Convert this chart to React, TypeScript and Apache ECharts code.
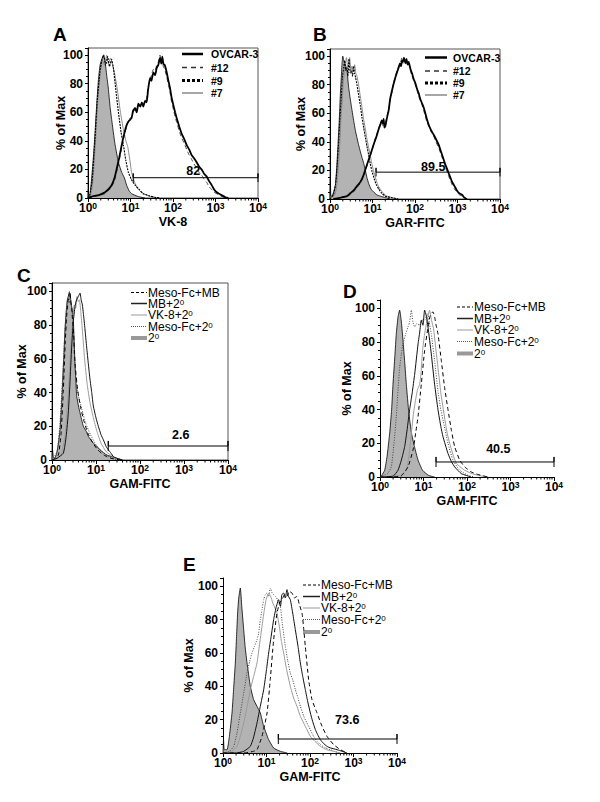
import React, { useEffect, useRef } from 'react';
import * as echarts from 'echarts';

type P = [number, number];

const FONT = '"Liberation Sans", Arial, Helvetica, sans-serif';

// ---------------- DATA ----------------
const panelLetters = ['A', 'B', 'C', 'D', 'E'];
const xTitles = ['VK-8', 'GAR-FITC', 'GAM-FITC', 'GAM-FITC', 'GAM-FITC'];
const yTitle = '% of Max';
const xMinorTicks = [2, 3, 4, 5, 6, 7, 8, 9, 20, 30, 40, 50, 60, 70, 80, 90, 200, 300, 400, 500, 600, 700, 800, 900, 2000, 3000, 4000, 5000, 6000, 7000, 8000, 9000];

const legendAB = ['OVCAR-3', '#12', '#9', '#7'];
const legendCDE = ['Meso-Fc+MB', 'MB+2', 'VK-8+2', 'Meso-Fc+2', '2'];
const legendCDEsup = ['', '0', '0', '0', '0'];

// Panel A
const aIsotype: P[] = [[1,0],[1.02,6],[1.05,1],[1.12,3],[1.22,14],[1.35,30],[1.46,45],[1.6,65],[1.75,82],[1.92,93],[2.1,97],[2.3,100],[2.51,96],[2.75,86],[3.0,77],[3.3,64],[3.6,55],[4.3,38],[5.2,25],[6.2,18],[7.2,14],[8.1,9],[9.3,5],[10.6,3],[15.3,1],[22,0]];
const aOvcar3: P[] = [[1,0],[1.22,1],[1.8,2],[2.51,4],[3.0,6],[3.6,9],[4.2,14],[4.7,20],[5.4,28],[6.2,37],[7.0,44],[8.1,51],[9.2,54],[10.6,56],[11.5,61],[12.8,63],[14,60],[15.3,66],[17,64],[18.5,67],[20,64],[22,68],[24,67],[26,76],[28.8,84],[31,82],[34.5,88],[38,86],[41.3,91],[45,93],[49.4,98],[53,94],[56,99],[59.3,94],[64,93],[71,88],[78,82],[85,77],[93,70],[102,65],[112,60],[122,56],[140,50],[160,45],[185,41],[210,37],[240,34],[275,30],[310,28],[360,25],[410,22],[473,20],[540,17],[620,15],[700,12],[813,9],[930,6],[1065,4],[1220,3],[1396,2],[1700,0.5],[2000,0]];
const aClone12: P[] = [[1,0],[1.3,1],[2.0,2],[2.51,3],[3.0,5],[3.6,8],[4.2,12],[4.7,18],[5.4,26],[6.2,35],[7.0,43],[8.1,50],[9.2,55],[10.6,57],[11.5,60],[12.8,62],[14,63],[15.3,64],[17,66],[20,65],[22,67],[24,70],[26,78],[28.8,82],[31,86],[34.5,90],[38,89],[41.3,93],[45,95],[49.4,100],[53,96],[56,97],[59.3,92],[64,90],[71,85],[78,79],[85,74],[93,67],[102,62],[112,57],[122,53],[140,47],[160,42],[185,38],[210,34],[240,30],[275,27],[310,24],[360,21],[410,18],[473,16],[540,13],[620,11],[700,8],[813,6],[930,4],[1065,3],[1220,2],[1396,1],[1700,0.3],[2000,0]];
const aClone9: P[] = [[1,0],[1.1,2],[1.25,12],[1.45,40],[1.65,68],[1.9,88],[2.1,96],[2.35,100],[2.6,93],[2.9,99],[3.2,92],[3.6,97],[4.0,90],[4.5,76],[5.2,60],[6.0,46],[6.8,37],[7.8,26],[8.9,18],[10.5,13],[12.8,9],[16,6],[20,3],[28,1.5],[37,0.5],[50,0]];
const aClone7: P[] = [[1,0],[1.15,2],[1.3,12],[1.5,40],[1.7,68],[1.95,88],[2.2,96],[2.45,93],[2.75,100],[3.0,94],[3.4,98],[3.8,93],[4.3,86],[5.0,74],[5.8,60],[6.8,48],[7.8,40],[8.6,36],[9.5,28],[10.6,18],[12.5,11],[15.3,6],[20,3],[30,1],[45,0]];
const aGate = [11.6, 10000, 14.2];
const aGateLabel = { x: 300, y: 19, text: '82' };

// Panel B
const bIsotype: P[] = [[1,0],[1.02,14],[1.05,2],[1.11,2],[1.22,5],[1.34,10],[1.44,22],[1.54,38],[1.65,55],[1.75,73],[1.85,86],[1.92,95],[2.0,100],[2.1,97],[2.3,94],[2.51,90],[2.75,78],[3.0,70],[3.3,62],[3.6,55],[3.95,48],[4.3,43],[4.7,38],[5.2,33],[5.66,29],[6.2,25],[6.8,20],[7.4,15],[8.1,11],[9.2,7],[10.6,5],[12.5,3],[15.3,2],[20,1],[26,0]];
const bOvcar3: P[] = [[1.2,0],[1.8,1],[2.51,2],[3.0,4],[3.6,6],[4.3,9],[5.2,12],[6.2,17],[7.4,24],[8.9,31],[10.6,38],[11.5,41],[12.8,45],[14,49],[15.3,52],[16.5,55],[17.5,53],[18.3,56],[19,50],[20,51],[22,57],[24,62],[26,70],[28.8,76],[31,80],[34.5,85],[38,89],[41.3,92],[44,95],[47,93],[49.4,97],[52,96],[55,99],[59.3,95],[63,98],[67,94],[71,96],[78,91],[85,88],[93,84],[102,81],[112,77],[122,74],[133,70],[146,67],[160,64],[175,60],[190,56],[210,52],[240,48],[275,45],[310,42],[360,38],[400,34],[433,31],[480,27],[520,24],[570,21],[620,18],[680,15],[745,12],[850,9],[970,6],[1100,4],[1280,3],[1450,1],[1670,0]];
const bClone12: P[] = [[1.2,0],[1.8,1],[2.51,2],[3.0,3],[3.6,5],[4.3,8],[5.2,11],[6.2,16],[7.4,23],[8.9,30],[10.6,38],[11.5,42],[12.8,46],[14,50],[15.3,53],[16.5,54],[17.5,51],[18.3,54],[19,52],[20,53],[22,58],[24,63],[26,69],[28.8,75],[31,81],[34.5,86],[38,90],[41.3,93],[44,94],[47,97],[49.4,99],[52,95],[55,97],[59.3,96],[63,95],[67,96],[71,95],[78,90],[85,86],[93,83],[102,80],[112,76],[122,72],[133,69],[146,66],[160,62],[175,58],[190,54],[210,51],[240,47],[275,44],[310,40],[360,36],[400,32],[433,29],[480,26],[520,22],[570,19],[620,16],[680,13],[745,10],[850,7],[970,5],[1100,3],[1280,2],[1450,1],[1670,0]];
const bClone9: P[] = [[1,0],[1.2,3],[1.35,10],[1.45,20],[1.6,40],[1.7,55],[1.85,72],[1.95,85],[2.1,92],[2.2,97],[2.35,90],[2.5,92],[2.65,86],[2.8,98],[3.0,88],[3.2,90],[3.4,86],[3.6,93],[3.8,88],[4.0,85],[4.3,80],[4.7,73],[5.2,65],[5.66,57],[6.2,50],[6.8,43],[7.4,37],[8.1,31],[8.8,25],[9.6,20],[11,14],[12.3,10],[14,7],[16.5,4],[20,2],[27,1],[40,0]];
const bClone7: P[] = [[1,0],[1.3,3],[1.45,10],[1.55,20],[1.7,38],[1.8,55],[1.95,70],[2.05,82],[2.2,90],[2.3,95],[2.45,99],[2.6,92],[2.75,95],[2.9,99],[3.1,90],[3.3,93],[3.5,89],[3.8,94],[4.05,88],[4.3,86],[4.7,80],[5.1,73],[5.6,65],[6.1,57],[6.7,50],[7.3,43],[8.0,37],[8.8,31],[9.6,25],[10.5,20],[12,14],[13.3,10],[15,7],[18,4],[22,2],[29,1],[42,0]];
const bGate = [12.1, 10000, 18.8];
const bGateLabel = { x: 269, y: 22.5, text: '89.5' };

// Panel C
const cSecondary: P[] = [[1,0],[1.03,6],[1.07,2],[1.15,1],[1.28,4],[1.4,10],[1.52,18],[1.65,33],[1.75,47],[1.87,63],[1.97,77],[2.1,88],[2.23,95],[2.4,98],[2.57,99],[2.7,93],[2.85,90],[3.05,83],[3.2,70],[3.33,57],[3.5,46],[3.64,38],[4.0,32],[4.33,28],[5.16,20],[6.0,17],[6.7,14],[8.7,10],[10.5,8],[12.3,6],[17.4,3],[23,2],[29.5,1],[40,0]];
const cMesoMB: P[] = [[1,0],[1.2,1],[1.4,3],[1.6,15],[1.8,40],[2.0,70],[2.15,85],[2.3,94],[2.5,100],[2.65,95],[2.8,90],[2.95,82],[3.1,75],[3.25,62],[3.4,55],[3.8,42],[4.4,32],[5.2,24],[6.5,16],[8.5,10],[11,6],[15,3],[22,1],[35,0]];
const cMB: P[] = [[1,0],[1.3,1],[1.81,4],[2.1,14],[2.35,28],[2.55,45],[2.8,67],[3.05,82],[3.33,91],[3.6,95],[3.97,97],[4.33,99],[4.6,95],[4.9,92],[5.16,87],[5.6,78],[6.13,67],[6.7,57],[7.3,48],[8.0,40],[8.7,32],[10,25],[11.3,20],[13,15],[14.7,12],[17,8],[19.1,6],[22,4],[24.8,2],[30,1],[40,0]];
const cVK8: P[] = [[1,0],[1.6,3],[2.0,15],[2.2,30],[2.4,45],[2.6,62],[2.8,75],[3.0,85],[3.2,92],[3.45,90],[3.7,97],[3.95,94],[4.2,95],[4.5,88],[4.8,80],[5.5,60],[6.3,45],[7.3,34],[8.7,25],[10.5,17],[13,10],[17,5],[24,2],[35,0]];
const cMeso2: P[] = [[1,0],[1.3,5],[1.5,20],[1.75,50],[2.0,80],[2.15,90],[2.3,96],[2.45,93],[2.55,98],[2.75,92],[2.9,85],[3.05,75],[3.2,65],[3.5,48],[4.0,38],[4.8,30],[5.8,22],[7.5,15],[10,9],[14,5],[20,2],[30,0]];
const cGate = [19, 10000, 8.3];
const cGateLabel = { x: 841, y: 14.9, text: '2.6' };

// Panel D
const dSecondary: P[] = [[1,0],[1.1,1],[1.28,4],[1.45,12],[1.67,26],[1.85,40],[1.99,55],[2.2,72],[2.37,85],[2.6,95],[2.83,99],[3.1,92],[3.38,81],[3.7,68],[4.03,55],[4.6,38],[5.3,26],[6.2,18],[7.5,10],[9.5,4],[13,1],[18,0]];
const dMesoMB: P[] = [[1,0],[3,0.5],[4.4,6],[5.74,16],[6.6,26],[7.5,36],[8.9,55],[10.6,75],[12.7,89],[14,95],[15.1,97],[16.5,98],[18,95],[19.5,90],[21.5,85],[25.7,69],[30.6,53],[36.5,40],[43.6,28],[52,18],[68,10],[88.5,6],[125,3],[178,1.5],[254,0.5],[300,0]];
const dMB: P[] = [[1,0],[2,0.5],[2.59,4],[3.1,10],[3.69,18],[4.2,28],[4.8,40],[5.5,50],[6.27,61],[7.5,79],[8.2,86],[8.9,93],[9.7,90],[10.6,99],[11.5,96],[12.7,89],[15.1,73],[18,55],[21.5,40],[25,30],[28,24],[36.5,14],[44,9],[52,6],[74,2],[125,0]];
const dVK8: P[] = [[1,0],[3,1],[4,4],[4.6,12],[5.26,26],[5.9,38],[6.5,45],[7.3,52],[8.16,55],[8.8,62],[9.5,75],[10.5,84],[11.5,90],[12.6,95],[13.8,99],[15.3,93],[17,88],[19,77],[21.5,65],[25,50],[30.6,35],[35,26],[40,20],[48,13],[57,8],[70,6],[88.5,4],[130,2],[178,1],[300,0]];
const dMeso2: P[] = [[1,0],[1.5,2],[1.82,6],[2.1,20],[2.37,36],[2.6,52],[2.83,65],[3.1,73],[3.38,79],[3.9,85],[4.4,89],[4.8,92],[5.26,99],[5.7,92],[6.27,89],[7.0,91],[8.16,90],[9.2,93],[10.6,93],[11.5,95],[12.7,97],[13.5,92],[15.1,85],[18,69],[21.5,51],[25,40],[28,34],[36.5,20],[47.6,10],[68,4],[105,1],[150,0]];
const dGate = [19.4, 10000, 8.9];
const dGateLabel = { x: 525, y: 16.4, text: '40.5' };

// Panel E
const eSecondary: P[] = [[1,0],[1.03,8],[1.07,2],[1.24,2],[1.4,10],[1.61,24],[1.75,38],[1.92,54],[2.05,70],[2.17,84],[2.3,93],[2.5,99],[2.7,88],[2.99,74],[3.25,63],[3.57,54],[4.25,40],[5.07,32],[6.05,28],[7.21,24],[8.6,16],[9.8,12],[11.2,8],[14.6,3],[20.8,1],[30,0]];
const eMesoMB: P[] = [[1,0],[3,0],[5,1],[6.05,2],[7.88,10],[10.3,24],[12.2,44],[14.6,68],[17.4,84],[20,90],[22.7,92],[26,95],[29.6,94],[33,97],[38.6,96],[44,93],[50.2,94],[57,89],[65.5,84],[72,74],[78,64],[93,44],[111,32],[145,24],[189,16],[246,10],[350,5],[498,2],[709,0]];
const eMB: P[] = [[1,0],[2,0],[3,1],[4.25,4],[5,9],[6.05,18],[7.2,28],[8.61,38],[10,50],[11.2,60],[12.8,70],[14.6,80],[16.5,87],[19,92],[21,88],[22.5,95],[24.8,96],[27,93],[29.6,98],[32,94],[35.3,92],[40,84],[46,74],[53,64],[60,54],[68,46],[78,38],[90,30],[102,24],[115,19],[133,14],[150,11],[173,8],[200,6],[246,4],[300,3],[418,2],[550,1],[709,0]];
const eVK8: P[] = [[1,0],[1.6,1],[2.1,4],[2.5,10],[2.99,18],[3.6,28],[4.25,38],[5.07,46],[6.05,54],[6.9,65],[7.88,76],[8.8,85],[9.8,92],[11.2,96],[12.5,94],[14,90],[15.6,87],[17.4,84],[20,75],[22,67],[24.8,60],[29,50],[35.3,40],[42,33],[50.2,28],[60,22],[71.5,18],[85,14],[102,10],[130,7],[173,4],[240,2],[350,1],[500,0]];
const eMeso2: P[] = [[1,0],[1.4,1],[1.76,4],[2.1,12],[2.5,24],[3.0,36],[3.56,48],[4.1,55],[4.64,60],[5.3,64],[6.05,68],[6.6,72],[7.21,80],[7.9,86],[8.61,92],[9.4,95],[10.3,96],[11.2,94],[12.2,99],[13.5,96],[14.6,95],[16,94],[18,92],[20.8,88],[23,78],[27.1,64],[31,55],[35.3,48],[40,44],[46,38],[53,33],[60,28],[72,22],[85,18],[102,14],[121,10],[145,7],[173,5],[230,3],[293,2],[360,1],[498,0]];
const eGate = [18.7, 10000, 8.4];
const eGateLabel = { x: 720, y: 19.6, text: '73.6' };

// ---------------- LAYOUT / STYLE ----------------
const grids = [
  { left: 88, top: 48, width: 170, height: 150, box: true, nameGap: 21 },
  { left: 330, top: 49, width: 170, height: 150, box: true, nameGap: 23 },
  { left: 52, top: 283, width: 176, height: 177, box: true, nameGap: 24 },
  { left: 380, top: 300, width: 174, height: 177, box: false, nameGap: 27 },
  { left: 223, top: 578, width: 174, height: 175, box: false, nameGap: 28 },
];

const FILL = '#b3b3b3';
const ST: Record<string, any> = {
  ovcar: { color: '#000', width: 1.8 },
  c12: { color: '#444', width: 1, type: [4, 3] },
  c9: { color: '#000', width: 1.1, type: [2, 1] },
  c7: { color: '#8a8a8a', width: 1 },
  mesoMB: { color: '#000', width: 1, type: [4, 3] },
  mb: { color: '#111', width: 1 },
  vk8: { color: '#9a9a9a', width: 1 },
  meso2: { color: '#444', width: 1, type: [1, 1.5] },
};

function line(name: string, data: P[], g: number, style: any) {
  return {
    type: 'line', name, xAxisIndex: g, yAxisIndex: g, data,
    showSymbol: false, symbol: 'none', smooth: 0.15, silent: true,
    lineStyle: style, z: 3,
  };
}
function fill(name: string, data: P[], g: number) {
  return {
    type: 'line', name, xAxisIndex: g, yAxisIndex: g, data,
    showSymbol: false, symbol: 'none', smooth: 0.15, silent: true,
    lineStyle: { color: '#000', width: 0.8 },
    areaStyle: { color: FILL, opacity: 1 }, z: 2,
  };
}
function gate(gv: number[], lab: { x: number; y: number; text: string }, g: number) {
  const [x1, x2, y] = gv;
  const h = 3;
  return [
    {
      type: 'line', xAxisIndex: g, yAxisIndex: g, silent: true, clip: false,
      symbol: 'none', showSymbol: false, z: 4,
      lineStyle: { color: '#000', width: 1 },
      data: [[x1, y - h], [x1, y + h], [x1, y], [x2, y], [x2, y + h], [x2, y - h]],
    },
    {
      type: 'scatter', xAxisIndex: g, yAxisIndex: g, silent: true, z: 5,
      symbolSize: 1, itemStyle: { color: '#fff', opacity: 1 },
      data: [[lab.x, lab.y]],
      label: {
        show: true, position: 'inside', formatter: lab.text, opacity: 1,
        color: '#000', fontWeight: 'bold', fontSize: 12.5, fontFamily: FONT,
        textBorderWidth: 0, textShadowBlur: 0,
      },
    },
  ];
}
function minorTicks(g: number) {
  return {
    type: 'custom', xAxisIndex: g, yAxisIndex: g, silent: true, clip: false, z: 6,
    data: xMinorTicks.map((v) => [v, 0]),
    renderItem: (_p: any, api: any) => {
      const pt = api.coord([api.value(0), 0]);
      return {
        type: 'line',
        shape: { x1: pt[0], y1: pt[1], x2: pt[0], y2: pt[1] + 2.5 },
        style: { stroke: '#000', lineWidth: 1 },
      };
    },
  };
}

const legendStylesAB = [
  { stroke: '#000', lineWidth: 2.5 },
  { stroke: '#333', lineWidth: 1.5, lineDash: [5, 4] },
  { stroke: '#000', lineWidth: 3, lineDash: [3, 2] },
  { stroke: '#888', lineWidth: 1.5 },
];
const legendStylesCDE = [
  { stroke: '#000', lineWidth: 1, lineDash: [3, 2] },
  { stroke: '#222', lineWidth: 1.5 },
  { stroke: '#9a9a9a', lineWidth: 1 },
  { stroke: '#555', lineWidth: 1, lineDash: [1, 1] },
  { bar: true },
];

function legendAB_(x1: number, x2: number, tx: number, ys: number[]) {
  const out: any[] = [];
  legendAB.forEach((t, i) => {
    out.push({ type: 'line', shape: { x1, y1: ys[i], x2, y2: ys[i] }, style: { ...legendStylesAB[i] }, silent: true });
    out.push({
      type: 'text', x: tx, y: ys[i], silent: true,
      style: { text: t, fill: '#000', fontSize: 10.5, fontWeight: 'bold', fontFamily: FONT, verticalAlign: 'middle', align: 'left', lineHeight: 11 },
    });
  });
  return out;
}
function legendCDE_(x1: number, x2: number, tx: number, ys: number[]) {
  const out: any[] = [];
  legendCDE.forEach((t, i) => {
    const st: any = legendStylesCDE[i];
    if (st.bar) {
      out.push({ type: 'rect', shape: { x: x1, y: ys[i] - 2, width: x2 - x1, height: 4 }, style: { fill: '#999' }, silent: true });
    } else {
      out.push({ type: 'line', shape: { x1, y1: ys[i], x2, y2: ys[i] }, style: { ...st }, silent: true });
    }
    const sup = legendCDEsup[i];
    out.push({
      type: 'text', x: tx, y: ys[i], silent: true,
      style: {
        text: sup ? `{n|${t}}{s|${sup}}` : `{n|${t}}`,
        fill: '#000', fontSize: 12, fontFamily: FONT, verticalAlign: 'middle', align: 'left',
        rich: {
          n: { fontSize: 12, fontFamily: FONT, fill: '#000', lineHeight: 11 },
          s: { fontSize: 8, fontFamily: FONT, fill: '#000', lineHeight: 6, verticalAlign: 'top' },
        },
      },
    });
  });
  return out;
}

const letterPos = [[53, 34], [313, 34], [17, 275], [343, 291], [183, 564]];

export default function App() {
  const ref = useRef<HTMLDivElement>(null);
  useEffect(() => {
    if (!ref.current) return;
    const chart = echarts.init(ref.current, undefined, { renderer: 'svg' });

    const xAxis = grids.map((g, i) => ({
      gridIndex: i, type: 'log', logBase: 10, min: 1, max: 10000,
      axisLine: { show: true, lineStyle: { color: '#000', width: 1 } },
      axisTick: { show: true, length: 4, lineStyle: { color: '#000' } },
      splitLine: { show: false },
      axisLabel: {
        margin: 3,
        formatter: (v: number) => `{b|10}{s|${Math.round(Math.log10(v))}}`,
        rich: {
          b: { fontSize: 12, fontWeight: 'bold', fontFamily: FONT, color: '#000', lineHeight: 14 },
          s: { fontSize: 8.5, fontWeight: 'bold', fontFamily: FONT, color: '#000', lineHeight: 8, verticalAlign: 'top' },
        },
      },
      name: xTitles[i], nameLocation: 'middle', nameGap: 17, nameMoveOverlap: false,
      nameTextStyle: { fontSize: 12.5, fontWeight: 'bold', fontFamily: FONT, color: '#000', verticalAlign: 'top' },
    }));
    const yAxis = grids.map((g, i) => ({
      gridIndex: i, type: 'value', min: 0, max: 105, interval: 20,
      axisLine: { show: true, lineStyle: { color: '#000', width: 1 } },
      axisTick: { show: true, length: 3, lineStyle: { color: '#000' } },
      minorTick: { show: true, splitNumber: 4, length: 2, lineStyle: { color: '#000' } },
      splitLine: { show: false },
      axisLabel: { showMaxLabel: false, margin: 5, fontSize: 12, fontWeight: 'bold', fontFamily: FONT, color: '#000' },
      name: yTitle, nameLocation: 'middle', nameGap: g.nameGap, nameMoveOverlap: false,
      nameTextStyle: { fontSize: 12.5, fontWeight: 'bold', fontFamily: FONT, color: '#000' },
    }));

    const series: any[] = [
      // A
      fill('isotype', aIsotype, 0),
      line('#7', aClone7, 0, ST.c7),
      line('#9', aClone9, 0, ST.c9),
      line('#12', aClone12, 0, ST.c12),
      line('OVCAR-3', aOvcar3, 0, ST.ovcar),
      ...gate(aGate, aGateLabel, 0),
      // B
      fill('isotype', bIsotype, 1),
      line('#7', bClone7, 1, ST.c7),
      line('#9', bClone9, 1, ST.c9),
      line('#12', bClone12, 1, ST.c12),
      line('OVCAR-3', bOvcar3, 1, ST.ovcar),
      ...gate(bGate, bGateLabel, 1),
      // C
      fill('2', cSecondary, 2),
      line('Meso-Fc+2', cMeso2, 2, ST.meso2),
      line('VK-8+2', cVK8, 2, ST.vk8),
      line('MB+2', cMB, 2, ST.mb),
      line('Meso-Fc+MB', cMesoMB, 2, ST.mesoMB),
      ...gate(cGate, cGateLabel, 2),
      // D
      fill('2', dSecondary, 3),
      line('Meso-Fc+2', dMeso2, 3, ST.meso2),
      line('VK-8+2', dVK8, 3, ST.vk8),
      line('MB+2', dMB, 3, ST.mb),
      line('Meso-Fc+MB', dMesoMB, 3, ST.mesoMB),
      ...gate(dGate, dGateLabel, 3),
      // E
      fill('2', eSecondary, 4),
      line('Meso-Fc+2', eMeso2, 4, ST.meso2),
      line('VK-8+2', eVK8, 4, ST.vk8),
      line('MB+2', eMB, 4, ST.mb),
      line('Meso-Fc+MB', eMesoMB, 4, ST.mesoMB),
      ...gate(eGate, eGateLabel, 4),
      ...grids.map((_, i) => minorTicks(i)),
    ];

    const graphic: any[] = [
      ...panelLetters.map((l, i) => ({
        type: 'text', x: letterPos[i][0], y: letterPos[i][1], silent: true,
        style: { text: l, fill: '#000', fontSize: 19, fontWeight: 'bold', fontFamily: FONT, verticalAlign: 'middle', align: 'left' },
      })),
      ...legendAB_(182, 203, 211, [54, 67.5, 80.5, 93]),
      ...legendAB_(425, 447, 453, [57.5, 71, 83, 95]),
      ...legendCDE_(131, 147, 148, [292.5, 303.5, 315, 326.5, 338]),
      ...legendCDE_(457, 473, 474, [307, 318.5, 330, 341.5, 353.5]),
      ...legendCDE_(303, 320, 321, [585, 596.5, 608, 619.5, 632]),
    ];

    chart.setOption({
      animation: false,
      backgroundColor: '#fff',
      grid: grids.map((g) => ({
        left: g.left, top: g.top, width: g.width, height: g.height,
        show: g.box, borderColor: '#555', borderWidth: 1, backgroundColor: 'transparent',
        containLabel: false,
      })),
      xAxis, yAxis, series, graphic,
    });
    return () => chart.dispose();
  }, []);
  return <div ref={ref} style={{ position: 'fixed', left: 0, top: 0, width: 600, height: 802 }} />;
}
